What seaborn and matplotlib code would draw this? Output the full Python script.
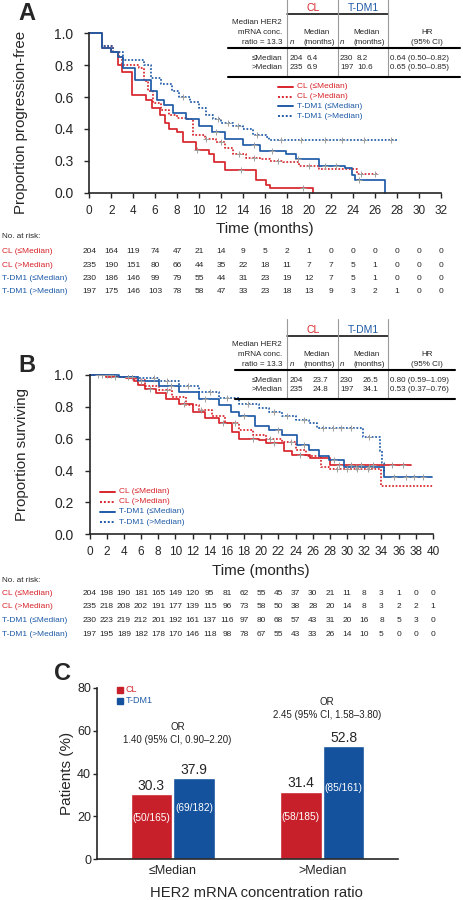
import matplotlib
matplotlib.use('Agg')
import matplotlib.pyplot as plt
from matplotlib.lines import Line2D
from matplotlib.transforms import blended_transform_factory
import numpy as np
import pandas as pd
import seaborn as sns

# ---------------- data ----------------
curve_labels = ['CL (≤Median)', 'CL (>Median)', 'T-DM1 (≤Median)', 'T-DM1 (>Median)']

# Panel A: progression-free (step points: time in months, proportion)
pfs_cl_low_t = [0, 1.2, 2.0, 2.6, 3.0, 3.9, 5.2, 5.7, 6.4, 6.9, 7.3, 8.0, 8.5, 9.7, 10.9, 11.4, 12.4, 15.2, 16.1, 16.5, 20.4]
pfs_cl_low_s = [1.0, 0.91, 0.88, 0.80, 0.76, 0.61, 0.58, 0.53, 0.49, 0.44, 0.40, 0.38, 0.32, 0.27, 0.24, 0.19, 0.14, 0.08, 0.05, 0.03, 0.0]
pfs_cl_high_t = [0, 1.2, 2.2, 2.7, 3.0, 4.5, 5.0, 5.3, 5.8, 6.5, 7.3, 8.0, 8.8, 9.4, 10.5, 11.5, 12.4, 13.1, 14.3, 15.5, 16.5, 17.6, 19.1, 20.9, 24.4, 26.3]
pfs_cl_high_s = [1.0, 0.92, 0.88, 0.85, 0.80, 0.78, 0.70, 0.64, 0.56, 0.52, 0.49, 0.47, 0.46, 0.36, 0.34, 0.32, 0.28, 0.24, 0.22, 0.21, 0.20, 0.19, 0.17, 0.15, 0.12, 0.12]
pfs_t_low_t = [0, 1.2, 2.0, 2.6, 3.1, 4.2, 5.6, 6.2, 6.8, 7.6, 8.8, 10.0, 11.2, 12.4, 14.0, 15.5, 17.9, 18.8, 20.9, 23.3, 23.9, 24.2, 26.9]
pfs_t_low_s = [1.0, 0.91, 0.88, 0.85, 0.78, 0.71, 0.64, 0.58, 0.55, 0.50, 0.46, 0.42, 0.38, 0.34, 0.30, 0.26, 0.24, 0.21, 0.17, 0.155, 0.11, 0.08, 0.0]
pfs_t_high_t = [0, 1.2, 2.2, 3.1, 5.0, 5.6, 6.5, 7.5, 8.2, 9.2, 10.0, 10.6, 11.3, 12.0, 13.1, 14.0, 14.9, 16.1, 16.4, 28.0]
pfs_t_high_s = [1.0, 0.92, 0.88, 0.83, 0.80, 0.72, 0.68, 0.64, 0.60, 0.57, 0.53, 0.49, 0.46, 0.44, 0.42, 0.40, 0.36, 0.35, 0.33, 0.33]

# censored observations (months)
pfs_cens = [
    [9.8, 13.8, 19.5],
    [10.6, 12.0, 13.6, 15.0, 17.2, 20.0, 24.7, 26.0],
    [11.5, 15.0, 16.6, 19.0, 21.5, 22.5, 24.6],
    [8.5, 11.7, 12.6, 13.5, 15.3, 17.5, 19.3, 21.5, 23.0, 25.0, 27.5],
]

# Panel B: overall survival
os_cl_low_t = [0, 1.9, 4.2, 5.2, 5.7, 6.5, 7.7, 8.9, 10.4, 12.0, 13.5, 15.1, 16.6, 17.4, 19.7, 20.5, 22.6, 23.6, 25.7, 28.0, 37.4]
os_cl_low_s = [1.0, 0.99, 0.98, 0.96, 0.94, 0.91, 0.885, 0.85, 0.82, 0.77, 0.73, 0.70, 0.64, 0.60, 0.59, 0.57, 0.52, 0.50, 0.48, 0.436, 0.436]
os_cl_high_t = [0, 2.6, 5.4, 6.5, 8.1, 9.6, 11.2, 12.7, 14.3, 15.8, 17.4, 19.0, 20.5, 22.4, 24.0, 25.2, 26.9, 27.9, 33.9, 40.0]
os_cl_high_s = [1.0, 0.99, 0.97, 0.93, 0.905, 0.86, 0.81, 0.78, 0.74, 0.70, 0.655, 0.625, 0.60, 0.58, 0.53, 0.49, 0.425, 0.41, 0.306, 0.306]
os_t_low_t = [0, 3.4, 5.7, 8.1, 10.4, 12.7, 15.1, 16.5, 17.4, 19.3, 20.9, 22.4, 24.2, 25.6, 26.7, 27.9, 29.6, 34.3, 39.9]
os_t_low_s = [1.0, 0.99, 0.96, 0.93, 0.895, 0.85, 0.81, 0.77, 0.74, 0.68, 0.655, 0.625, 0.56, 0.53, 0.49, 0.467, 0.425, 0.362, 0.362]
os_t_high_t = [0, 3.0, 5.7, 8.1, 10.4, 12.7, 15.1, 17.4, 19.7, 20.9, 22.4, 24.0, 25.6, 26.5, 31.8, 33.8, 34.1, 34.3, 34.5]
os_t_high_s = [1.0, 0.99, 0.98, 0.96, 0.93, 0.895, 0.855, 0.82, 0.79, 0.77, 0.74, 0.72, 0.70, 0.67, 0.61, 0.52, 0.45, 0.40, 0.40]

os_cens = [
    [1.0, 3.0, 7.0, 11.0, 15.5, 19.0, 21.5, 24.5, 29.0, 30.5, 31.6, 33.0, 35.2, 36.5],
    [2.0, 4.5, 9.0, 13.0, 17.0, 21.0, 23.5, 28.8, 30.0, 31.2, 32.4],
    [1.5, 6.0, 9.5, 13.5, 18.0, 22.0, 25.0, 28.5, 31.0, 32.5, 35.5, 36.8, 37.8, 38.8],
    [2.5, 5.0, 7.5, 9.0, 11.5, 14.0, 16.0, 18.5, 21.5, 23.0, 25.0, 27.2, 28.3, 29.3, 30.4, 32.5],
]

# numbers at risk
pfs_risk_times = list(range(0, 33, 2))
pfs_risk = [
    [204, 164, 119, 74, 47, 21, 14, 9, 5, 2, 1, 0, 0, 0, 0, 0, 0],
    [235, 190, 151, 80, 66, 44, 35, 22, 18, 11, 7, 7, 5, 1, 0, 0, 0],
    [230, 186, 146, 99, 79, 55, 44, 31, 23, 19, 12, 7, 5, 1, 0, 0, 0],
    [197, 175, 146, 103, 78, 58, 47, 33, 23, 18, 13, 9, 3, 2, 1, 0, 0],
]
os_risk_times = list(range(0, 41, 2))
os_risk = [
    [204, 198, 190, 181, 165, 149, 120, 95, 81, 62, 55, 45, 37, 30, 21, 11, 8, 3, 1, 0, 0],
    [235, 218, 208, 202, 191, 177, 139, 115, 96, 73, 58, 50, 38, 28, 20, 14, 8, 3, 2, 2, 1],
    [230, 223, 219, 212, 201, 192, 161, 137, 116, 97, 80, 68, 57, 43, 31, 20, 16, 8, 5, 3, 0],
    [197, 195, 189, 182, 178, 170, 146, 118, 98, 78, 67, 55, 43, 33, 26, 14, 10, 5, 0, 0, 0],
]

# summary tables
pfs_n = [[204, 230], [235, 197]]
pfs_median = [['6.4', '8.2'], ['6.9', '10.6']]
pfs_hr = ['0.64 (0.50–0.82)', '0.65 (0.50–0.85)']
os_n = [[204, 230], [235, 197]]
os_median = [['23.7', '26.5'], ['24.8', '34.1']]
os_hr = ['0.80 (0.59–1.09)', '0.53 (0.37–0.76)']

# Panel C: response
groups = ['≤Median', '>Median']
arms = ['CL', 'T-DM1']
cl_pct = [30.3, 31.4]
tdm1_pct = [37.9, 52.8]
cl_frac = ['(50/165)', '(58/185)']
tdm1_frac = ['(69/182)', '(85/161)']
or_text = ['1.40 (95% CI, 0.90–2.20)', '2.45 (95% CI, 1.58–3.80)']

# ---------------- style ----------------
RED = '#d7252b'
BLUE = '#1f5ba7'
BAR_RED = '#c8202a'
BAR_BLUE = '#15529e'
GRID = '#9a9a9a'
colors = [RED, RED, BLUE, BLUE]
styles = ['-', (0, (1, 1)), '-', (0, (1, 1))]

sns.set_style('ticks')
plt.rcParams['font.family'] = ['Liberation Sans', 'DejaVu Sans']
plt.rcParams['axes.linewidth'] = 1.2
plt.rcParams['xtick.major.width'] = 1.0
plt.rcParams['ytick.major.width'] = 1.0

W, H = 463, 900
fig = plt.figure(figsize=(W / 100, H / 100), dpi=100)


def box(l, t, r, b):
    return [l / W, 1 - b / H, (r - l) / W, (b - t) / H]


def fx(x):
    return x / W


def fy(y):
    return 1 - y / H


def hline(x0, x1, y, lw=1.0, color='black'):
    fig.add_artist(Line2D([fx(x0), fx(x1)], [fy(y), fy(y)], lw=lw, color=color))


def vline(x, y0, y1, lw=0.8, color=GRID):
    fig.add_artist(Line2D([fx(x), fx(x)], [fy(y0), fy(y1)], lw=lw, color=color))


def km_panel(ax, curves, cens, xmax, ylabel, yticklabels, letter, letter_y, label_y):
    for (t, s), c, ls in zip(curves, colors, styles):
        sns.lineplot(x=t, y=s, ax=ax, color=c, linestyle=ls, lw=1.25,
                     drawstyle='steps-post', estimator=None, sort=False,
                     clip_on=False)
    for (t, s), ct in zip(curves, cens):
        idx = np.searchsorted(t, ct, side='right') - 1
        sns.scatterplot(x=ct, y=np.asarray(s)[idx], ax=ax, marker='+', s=14,
                        color='#a0a0a0', linewidth=0.7, zorder=3)
    ax.set_xlim(0, xmax)
    ax.set_ylim(0, 1.0)
    ax.set_xticks(range(0, xmax + 1, 2))
    ax.set_yticks([0, 0.2, 0.4, 0.6, 0.8, 1.0])
    ax.set_yticklabels(yticklabels)
    ax.tick_params(axis='y', labelsize=10, length=3.5, pad=8)
    ax.tick_params(axis='x', labelsize=8.5, length=3.5, pad=5)
    ax.set_xlabel('Time (months)', fontsize=11, labelpad=4)
    ax.set_ylabel(ylabel, fontsize=10.8)
    ax.yaxis.set_label_coords(-0.175, label_y)
    sns.despine(ax=ax)
    fig.text(fx(27), fy(letter_y), letter, fontsize=17, fontweight='bold',
             ha='center', va='center')


def km_legend(x0, y0, step):
    for i, (lab, c, ls) in enumerate(zip(curve_labels, colors, styles)):
        y = y0 + i * step
        fig.add_artist(Line2D([fx(x0), fx(x0 + 15)], [fy(y), fy(y)], color=c, ls=ls, lw=1.4))
        fig.text(fx(x0 + 19), fy(y), lab, color=c, fontsize=6, va='center')


def km_table(o, n, med, hr, med_x, line_x):
    fig.text(fx(313), fy(o + 8), 'CL', color=RED, fontsize=7.5, ha='center', va='center')
    fig.text(fx(363), fy(o + 8), 'T-DM1', color=BLUE, fontsize=7.5, ha='center', va='center')
    hline(287, 388, o + 14, lw=1.1)
    for x in [287, 338, 388]:
        vline(x, o - 3, o + 77)
    for i, s in enumerate(['Median HER2', 'mRNA conc.', 'ratio = 13.3']):
        fig.text(fx(282), fy(o + 22 + 10 * i), s, fontsize=5.8, ha='right', va='center')
    for cx in [317, 367]:
        fig.text(fx(cx), fy(o + 32), 'Median', fontsize=5.8, ha='center', va='center')
        fig.text(fx(cx - 25), fy(o + 42), 'n', fontsize=5.8, style='italic', ha='center', va='center')
        fig.text(fx(cx + 2), fy(o + 42), '(months)', fontsize=5.8, ha='center', va='center')
    fig.text(fx(427), fy(o + 32), 'HR', fontsize=5.8, ha='center', va='center')
    fig.text(fx(427), fy(o + 42), '(95% CI)', fontsize=5.8, ha='center', va='center')
    hline(line_x[0], line_x[1], o + 48, lw=1.5)
    for r, lab in enumerate(groups):
        y = o + 58 + 9.5 * r
        fig.text(fx(282), fy(y), lab, fontsize=5.8, ha='right', va='center')
        fig.text(fx(290), fy(y), str(n[r][0]), fontsize=5.8, va='center')
        fig.text(fx(340), fy(y), str(n[r][1]), fontsize=5.8, va='center')
        fig.text(fx(med_x[0]), fy(y), med[r][0], fontsize=5.8, va='center')
        fig.text(fx(med_x[1]), fy(y), med[r][1], fontsize=5.8, va='center')
        fig.text(fx(390), fy(y), hr[r], fontsize=5.8, va='center')
    hline(line_x[0], line_x[1], o + 77, lw=1.5)


def risk_table(ax, times, risk, y_head, ys):
    tr = blended_transform_factory(ax.transData, fig.transFigure)
    fig.text(fx(2), fy(y_head), 'No. at risk:', fontsize=5.8, va='center')
    for row, lab, c, y in zip(risk, curve_labels, colors, ys):
        fig.text(fx(2), fy(y), lab, color=c, fontsize=6, va='center')
        for t, v in zip(times, row):
            ax.text(t, fy(y), str(v), transform=tr, fontsize=6, ha='center', va='center')


# ---------------- panel A ----------------
axa = fig.add_axes(box(89.3, 33.3, 440.7, 192.7))
pfs_curves = [(pfs_cl_low_t, pfs_cl_low_s), (pfs_cl_high_t, pfs_cl_high_s),
              (pfs_t_low_t, pfs_t_low_s), (pfs_t_high_t, pfs_t_high_s)]
km_panel(axa, pfs_curves, pfs_cens, 32, 'Proportion progression-free',
         ['0.0', '0.3', '0.4', '0.6', '0.8', '1.0'], 'A', 14, 0.44)
km_legend(278, 87, 9.7)
km_table(0, pfs_n, pfs_median, pfs_hr, [307, 357], [228, 460])
risk_table(axa, pfs_risk_times, pfs_risk, 237, [251.7, 265, 278.4, 291.8])

# ---------------- panel B ----------------
axb = fig.add_axes(box(89.5, 375, 433, 534.3))
os_curves = [(os_cl_low_t, os_cl_low_s), (os_cl_high_t, os_cl_high_s),
             (os_t_low_t, os_t_low_s), (os_t_high_t, os_t_high_s)]
km_panel(axb, os_curves, os_cens, 40, 'Proportion surviving',
         ['0.0', '0.2', '0.4', '0.6', '0.8', '1.0'], 'B', 365, 0.5)
km_legend(100, 491.7, 10.1)
km_table(322, os_n, os_median, os_hr, [313, 363], [235, 455])
risk_table(axb, os_risk_times, os_risk, 581, [593.3, 606.8, 620.6, 634])

# ---------------- panel C ----------------
axc = fig.add_axes(box(96.7, 688, 398, 859))
dfc = pd.DataFrame({
    'group': groups * 2,
    'arm': [arms[0]] * 2 + [arms[1]] * 2,
    'pct': cl_pct + tdm1_pct,
})
sns.barplot(data=dfc, x='group', y='pct', hue='arm', hue_order=arms,
            palette=[BAR_RED, BAR_BLUE], saturation=1, width=0.575, gap=0.03,
            legend=False, ax=axc)
axc.set_xlim(-0.51, 1.508)
axc.set_ylim(0, 80)
axc.set_yticks([0, 20, 40, 60, 80])
axc.tick_params(axis='y', labelsize=9, length=3, pad=1)
axc.tick_params(axis='x', labelsize=9, length=0, pad=4)
axc.set_xlabel('HER2 mRNA concentration ratio', fontsize=10.6)
axc.xaxis.set_label_coords(0.53, -0.155)
axc.set_ylabel('Patients (%)', fontsize=11, labelpad=2)
sns.despine(ax=axc)

fracs = [cl_frac, tdm1_frac]
for cont, fr in zip(axc.containers, fracs):
    for bar, f in zip(cont, fr):
        cx = bar.get_x() + bar.get_width() / 2
        h = bar.get_height()
        axc.annotate(f'{h:.1f}', (cx, h), xytext=(0, 1), textcoords='offset points',
                     ha='center', va='bottom', fontsize=10)
        axc.text(cx, h * 0.63, f, color='white', ha='center', va='center', fontsize=7.3)

or_offsets = [24, 19]
for i, txt in enumerate(or_text):
    top = max(cl_pct[i], tdm1_pct[i])
    axc.annotate('OR\n' + txt, (i + 0.03, top), xytext=(0, or_offsets[i]),
                 textcoords='offset points', ha='center', va='bottom',
                 fontsize=7, linespacing=1.3, color='#222222')

for i, (arm, c) in enumerate(zip(arms, [BAR_RED, BAR_BLUE])):
    y = 690 + 10.5 * i
    fig.add_artist(Line2D([fx(120.5)], [fy(y)], marker='s', markersize=4.2, color=c, ls='none'))
    fig.text(fx(126), fy(y), arm, color=RED if i == 0 else BLUE, fontsize=6.5, va='center')

fig.text(fx(62), fy(673), 'C', fontsize=17, fontweight='bold', ha='center', va='center')

fig.savefig('out.png', dpi=100)
